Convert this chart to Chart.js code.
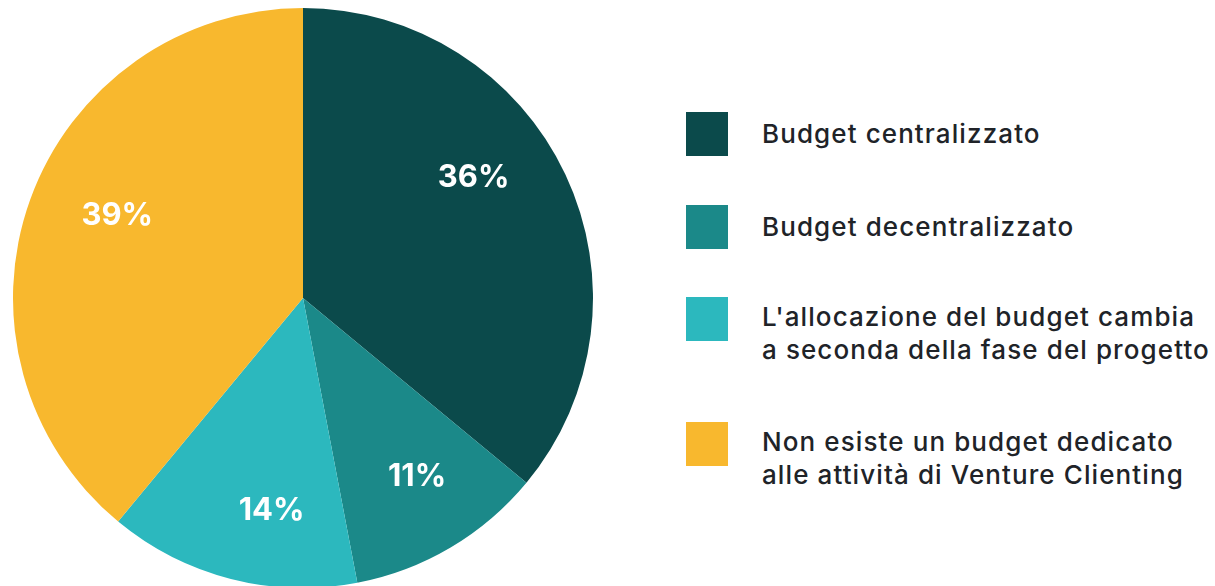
<!DOCTYPE html>
<html>
<head>
<meta charset="utf-8">
<script src="https://cdn.jsdelivr.net/npm/chart.js@4/dist/chart.umd.min.js"></script>
<style>
  html, body { margin: 0; padding: 0; background: #ffffff; width: 1215px; height: 586px; overflow: hidden; }
  #pieWrap { position: absolute; left: 13px; top: 8px; width: 580px; height: 580px; }
  #legend { position: absolute; left: 686px; top: 0; font-family: Inter, "Noto Sans", sans-serif; color: #202328; }
  .swatch { position: absolute; left: 0; width: 42px; height: 44px; }
  .text { position: absolute; left: 76px; font-size: 26px; font-weight: 500; line-height: 33px; letter-spacing: 1.1px; white-space: nowrap; }
</style>
</head>
<body>
<div id="pieWrap"><canvas id="pie"></canvas></div>
<div id="legend"></div>
<script>
// Budget allocation for Venture Clienting activities (share of respondents, %)
const categories = [
  "Budget centralizzato",
  "Budget decentralizzato",
  "L'allocazione del budget cambia\na seconda della fase del progetto",
  "Non esiste un budget dedicato\nalle attività di Venture Clienting"
];
const shares = [36, 11, 14, 39];
const sliceColors = ["#0b4a4b", "#1b8989", "#2cb8be", "#f8b82e"];

// Label placement: fraction of the radius and angular nudge (degrees) per slice
const labelRadius = [0.72, 0.73, 0.74, 0.70];
const labelNudge = [-10, -2, -6, 4];
// Legend rows: top edge of each colour swatch
const swatchTops = [112, 205, 297, 422];

const sliceLabels = {
  id: "sliceLabels",
  afterDatasetsDraw(chart) {
    const ctx = chart.ctx;
    const meta = chart.getDatasetMeta(0);
    ctx.save();
    ctx.fillStyle = "#ffffff";
    ctx.font = "700 31px Inter, 'Noto Sans', sans-serif";
    ctx.textAlign = "center";
    ctx.textBaseline = "middle";
    meta.data.forEach((arc, i) => {
      const p = arc.getProps(["x", "y", "startAngle", "endAngle", "outerRadius"], true);
      const mid = (p.startAngle + p.endAngle) / 2 + labelNudge[i] * Math.PI / 180;
      const r = p.outerRadius * labelRadius[i];
      ctx.fillText(shares[i] + "%", p.x + Math.cos(mid) * r, p.y + Math.sin(mid) * r);
    });
    ctx.restore();
  }
};

new Chart(document.getElementById("pie"), {
  type: "pie",
  data: {
    labels: categories,
    datasets: [{
      data: shares,
      backgroundColor: sliceColors,
      borderWidth: 0
    }]
  },
  options: {
    responsive: true,
    maintainAspectRatio: false,
    animation: false,
    layout: { padding: 0 },
    plugins: { legend: { display: false }, tooltip: { enabled: false } }
  },
  plugins: [sliceLabels]
});

// Legend built from the same categories and colours
const legend = document.getElementById("legend");
categories.forEach((label, i) => {
  const lines = label.split("\n");
  const sw = document.createElement("div");
  sw.className = "swatch";
  sw.style.top = swatchTops[i] + "px";
  sw.style.background = sliceColors[i];
  const tx = document.createElement("div");
  tx.className = "text";
  // single-line labels are centred on the swatch, wrapped ones hang from its top
  tx.style.top = (swatchTops[i] + (lines.length > 1 ? 3 : 5)) + "px";
  tx.innerHTML = lines.join("<br>");
  legend.appendChild(sw);
  legend.appendChild(tx);
});
</script>
</body>
</html>
